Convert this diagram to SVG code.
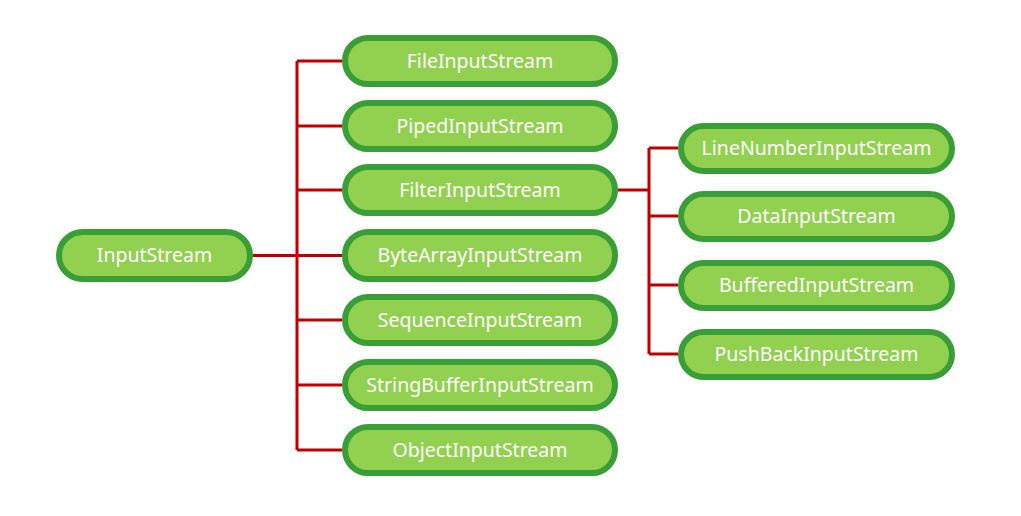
<svg xmlns="http://www.w3.org/2000/svg" width="1021" height="516" viewBox="0 0 1021 516">
<style>
.n rect{fill:#92D050;stroke:#3A9E36;stroke-width:6}
.n text{fill:#fff;font-family:"Noto Sans","Open Sans",sans-serif;font-size:19.5px;text-anchor:middle;dominant-baseline:central}
.c path{fill:none;stroke:#C00000;stroke-width:3}
</style>
<rect width="1021" height="516" fill="#fff"/>
<g class="c" id="connectors">
<path d="M253 255.5H297M297 61V450M297 61H342M297 126H342M297 190H342M297 255.5H342M297 320H342M297 385H342M297 450H342"/>
<path d="M618 190H649M649 148V354M649 148H678M649 216H678M649 285H678M649 354H678"/>
</g>
<g class="n" id="InputStream"><rect x="59" y="232" width="191" height="47" rx="23.5"/><text x="154.5" y="254.5">InputStream</text></g>
<g class="n" id="FileInputStream"><rect x="345" y="38" width="270" height="46" rx="23"/><text x="480" y="60">FileInputStream</text></g>
<g class="n" id="PipedInputStream"><rect x="345" y="103" width="270" height="46" rx="23"/><text x="480" y="125">PipedInputStream</text></g>
<g class="n" id="FilterInputStream"><rect x="345" y="167" width="270" height="46" rx="23"/><text x="480" y="189">FilterInputStream</text></g>
<g class="n" id="ByteArrayInputStream"><rect x="345" y="232" width="270" height="47" rx="23"/><text x="480" y="254.5">ByteArrayInputStream</text></g>
<g class="n" id="SequenceInputStream"><rect x="345" y="297" width="270" height="46" rx="23"/><text x="480" y="319">SequenceInputStream</text></g>
<g class="n" id="StringBufferInputStream"><rect x="345" y="362" width="270" height="46" rx="23"/><text x="480" y="384">StringBufferInputStream</text></g>
<g class="n" id="ObjectInputStream"><rect x="345" y="427" width="270" height="46" rx="23"/><text x="480" y="449">ObjectInputStream</text></g>
<g class="n" id="LineNumberInputStream"><rect x="681" y="126" width="271" height="45" rx="22.5"/><text x="816.5" y="147">LineNumberInputStream</text></g>
<g class="n" id="DataInputStream"><rect x="681" y="194" width="271" height="45" rx="22.5"/><text x="816.5" y="215">DataInputStream</text></g>
<g class="n" id="BufferedInputStream"><rect x="681" y="263" width="271" height="45" rx="22.5"/><text x="816.5" y="284">BufferedInputStream</text></g>
<g class="n" id="PushBackInputStream"><rect x="681" y="332" width="271" height="45" rx="22.5"/><text x="816.5" y="353">PushBackInputStream</text></g>
</svg>
